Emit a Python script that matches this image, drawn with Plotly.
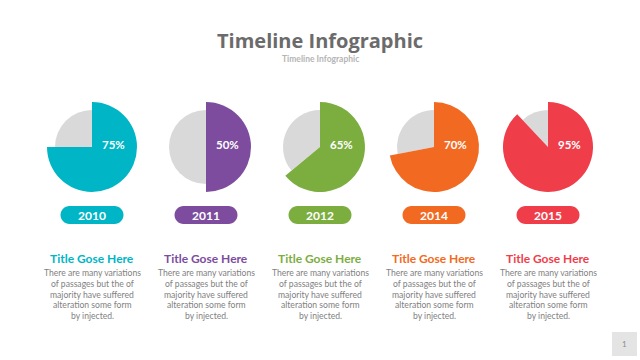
import plotly.graph_objects as go

# ---- data ----
years = ["2010", "2011", "2012", "2014", "2015"]
pct_labels = ["75%", "50%", "65%", "70%", "95%"]
fill_pct = [75, 50, 64, 72, 88]          # slice sizes as drawn
colors = ["#00B5C6", "#7D4C9E", "#7CAE3F", "#F26A22", "#EF3E4A"]
titles = ["Title Gose Here"] * 5
body = ["There are many variations", "of passages but the of",
        "majority have suffered", "alteration some form", "by injected."]

W, H = 640, 360
cx0, dx = 92, 114
cy = 147
R_big, R_small = 45, 37

fig = go.Figure()

def dom(cx, cy, r):
    return dict(x=[(cx - r) / W, (cx + r) / W], y=[1 - (cy + r) / H, 1 - (cy - r) / H])

for i, (p, col) in enumerate(zip(fill_pct, colors)):
    cx = cx0 + i * dx
    # grey remainder (smaller radius)
    fig.add_trace(go.Pie(values=[p, 100 - p], sort=False, direction="clockwise", rotation=0,
                         marker=dict(colors=["rgba(0,0,0,0)", "#D9D9D9"], line=dict(width=0)),
                         textinfo="none", hoverinfo="skip", showlegend=False,
                         domain=dom(cx, cy, R_small)))
    # coloured slice (bigger radius)
    fig.add_trace(go.Pie(values=[p, 100 - p], sort=False, direction="clockwise", rotation=0,
                         marker=dict(colors=[col, "rgba(0,0,0,0)"], line=dict(width=0)),
                         textinfo="none", hoverinfo="skip", showlegend=False,
                         domain=dom(cx, cy, R_big)))

fig.add_trace(go.Scatter(x=[0], y=[0], mode="markers", marker=dict(opacity=0),
                         showlegend=False, hoverinfo="skip"))

def pill(x0, y0, x1, y1, color):
    r = (y1 - y0) / 2
    k = 0.5523 * r
    path = (f"M {x0+r},{y0} L {x1-r},{y0} "
            f"C {x1-r+k},{y0} {x1},{y0+r-k} {x1},{y0+r} "
            f"C {x1},{y0+r+k} {x1-r+k},{y1} {x1-r},{y1} "
            f"L {x0+r},{y1} "
            f"C {x0+r-k},{y1} {x0},{y0+r+k} {x0},{y0+r} "
            f"C {x0},{y0+r-k} {x0+r-k},{y0} {x0+r},{y0} Z")
    return dict(type="path", path=path, xref="x", yref="y", fillcolor=color,
                line=dict(width=0), layer="above")

shapes = []
ann = []
for i, col in enumerate(colors):
    cx = cx0 + i * dx
    shapes.append(pill(cx - 31.5, 206, cx + 31.5, 224, col))
    ann.append(dict(x=cx, y=215.5, text=f"<b>{years[i]}</b>", showarrow=False, xref="x", yref="y",
                    font=dict(family="Lato", size=12, color="white")))
    ann.append(dict(x=cx + 21, y=144, text=f"<b>{pct_labels[i]}</b>", showarrow=False, xref="x", yref="y",
                    font=dict(family="Lato", size=11.5, color="white")))
    ann.append(dict(x=cx, y=258, text=f"<b>{titles[i]}</b>", showarrow=False, xref="x", yref="y",
                    font=dict(family="Lato", size=12, color=col)))
    for j, line in enumerate(body):
        ann.append(dict(x=cx, y=273 + j * 10.8, text=line, showarrow=False, xref="x", yref="y",
                        font=dict(family="Lato", size=8.6, color="#7F7F7F")))

# page number box
shapes.append(dict(type="rect", x0=612, x1=637, y0=332, y1=356, xref="x", yref="y",
                   fillcolor="#E4E4E4", line=dict(width=0)))
ann.append(dict(x=624.5, y=344, text="1", showarrow=False, xref="x", yref="y",
                font=dict(family="Lato", size=8, color="#8A8A8A")))

ann.append(dict(x=320, y=40, text="<b>Timeline Infographic</b>", showarrow=False, xref="x", yref="y",
                font=dict(family="Open Sans", size=20, color="#6B6B6B")))
ann.append(dict(x=320, y=59, text="<b>Timeline Infographic</b>", showarrow=False, xref="x", yref="y",
                font=dict(family="Lato", size=8.5, color="#B5B5B5")))

fig.update_layout(
    width=W, height=H, margin=dict(l=0, r=0, t=0, b=0),
    paper_bgcolor="white", plot_bgcolor="white",
    xaxis=dict(range=[0, W], visible=False, fixedrange=True),
    yaxis=dict(range=[H, 0], visible=False, fixedrange=True),
    shapes=shapes, annotations=ann, showlegend=False,
)

fig.write_html("out.html")
